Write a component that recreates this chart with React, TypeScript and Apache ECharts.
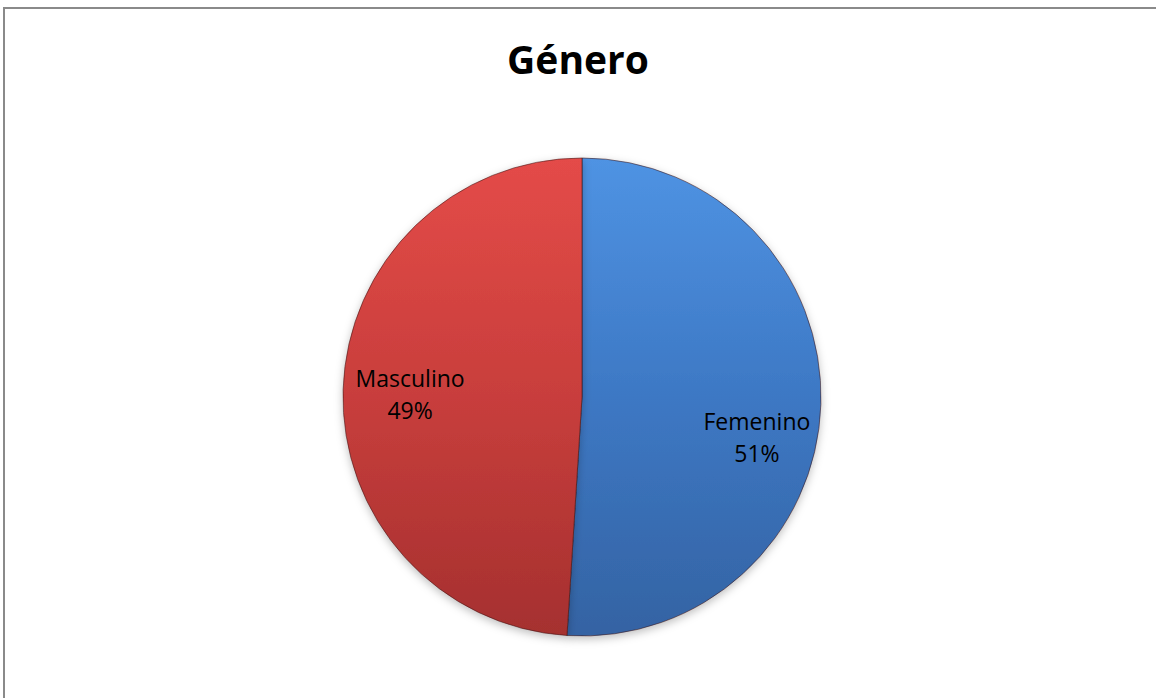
import React, { useEffect, useRef } from "react";
import * as echarts from "echarts";

const titleText = "Género";
const categories = ["Femenino", "Masculino"];
const values = [51, 49];
const sliceColors = [
  ["#4f93e3", "#3d78c4", "#3463a3"],
  ["#e44b48", "#c83e3c", "#a5302f"],
];
const labelOffsets = [
  [-2, 34],
  [5, 3],
];

export default function App() {
  const ref = useRef<HTMLDivElement>(null);
  useEffect(() => {
    document.body.style.margin = "0";
    const chart = echarts.init(ref.current!, null, { renderer: "svg" });
    const cx = 582;
    const cy = 397;
    const data = categories.map((name, i) => ({
      name,
      value: values[i],
      itemStyle: {
        color: {
          type: "linear",
          x: 0,
          y: 0,
          x2: 0,
          y2: 1,
          colorStops: [
            { offset: 0, color: sliceColors[i][0] },
            { offset: 0.5, color: sliceColors[i][1] },
            { offset: 1, color: sliceColors[i][2] },
          ],
        },
      },
    }));
    const labelData = categories.map((name, i) => ({
      name,
      value: values[i],
      label: { offset: labelOffsets[i] },
    }));
    chart.setOption({
      animation: false,
      backgroundColor: "#ffffff",
      title: {
        text: titleText,
        left: "center",
        top: 34,
        textStyle: {
          fontFamily: "Open Sans",
          fontWeight: "bold",
          fontSize: 39,
          color: "#000000",
        },
      },
      graphic: [
        {
          type: "rect",
          shape: { x: 4, y: 8, width: 1300, height: 900 },
          style: { fill: "none", stroke: "#8a8a8a", lineWidth: 2 },
          z: -10,
        },
      ],
      series: [
        {
          type: "pie",
          center: [cx, cy],
          radius: [0, 239],
          startAngle: 90,
          clockwise: true,
          label: { show: false },
          labelLine: { show: false },
          itemStyle: {
            borderColor: "rgba(60,20,20,0.55)",
            borderWidth: 1,
            shadowBlur: 8,
            shadowColor: "rgba(0,0,0,0.25)",
            shadowOffsetY: 3,
          },
          emphasis: { disabled: true },
          data,
        },
        {
          type: "pie",
          center: [cx, cy],
          radius: [0, 348],
          startAngle: 90,
          clockwise: true,
          silent: true,
          itemStyle: { color: "rgba(0,0,0,0)" },
          label: {
            show: true,
            position: "inside",
            formatter: (p: any) => `${p.name}\n${p.value}%`,
            fontFamily: "Open Sans",
            fontSize: 23,
            lineHeight: 32,
            color: "#000000",
            align: "center",
          },
          labelLine: { show: false },
          emphasis: { disabled: true },
          data: labelData,
        },
      ],
    });
    return () => chart.dispose();
  }, []);
  return (
    <div
      ref={ref}
      style={{ position: "absolute", left: 0, top: 0, width: 1156, height: 698 }}
    />
  );
}
